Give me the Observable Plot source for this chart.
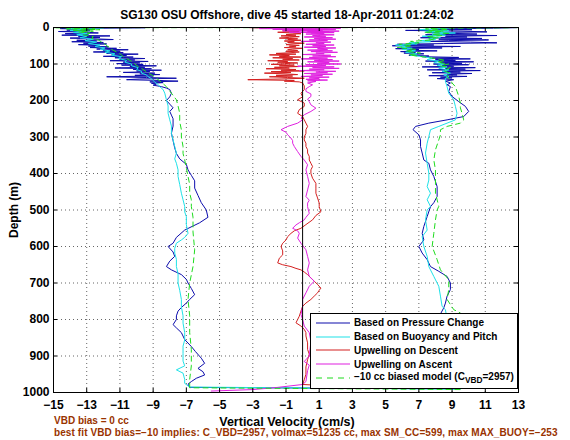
<!DOCTYPE html>
<html><head><meta charset="utf-8">
<script src="https://cdn.jsdelivr.net/npm/d3@7"></script>
<script src="https://cdn.jsdelivr.net/npm/@observablehq/plot@0.6"></script>
<style>
body{margin:0;background:#fff;}
#wrap{position:relative;width:570px;height:440px;font-family:"Liberation Sans",Arial,Helvetica,sans-serif;font-weight:bold;color:#000;}
.t{position:absolute;white-space:nowrap;line-height:1.2;}
.c{transform:translate(-50%,-50%);}
#legend{position:absolute;left:310px;top:313px;width:206px;height:74px;border:1px solid #000;background:#fff;}
.row{position:absolute;left:5px;height:12px;display:flex;align-items:center;font-size:10px;}
.row svg{margin-right:4px;}
</style></head><body><div id="wrap"></div>
<script>
// ---------- data (depth m, vertical velocity cm/s) ----------
const xTicks = [-15,-13,-11,-9,-7,-5,-3,-1,1,3,5,7,9,11,13];
const yTicks = [0,100,200,300,400,500,600,700,800,900,1000];

const legendLabels = ["Based on Pressure Change","Based on Buoyancy and Pitch","Upwelling on Descent","Upwelling on Ascent","\u221210 cc biased model (C<sub>VBD</sub>=2957)"];

const pressureDescent = [[1,-9.5],[3,-14.6],[5,-12.5],[7,-14.2],[9,-12.8],[11,-14.7],[13,-13.0],[15,-12.3],[17,-14.3],[19,-12.9],[21,-14.5],[23,-11.6],[25,-13.5],[27,-12.2],[29,-14.0],[31,-12.5],[33,-11.4],[35,-13.6],[37,-12.4],[39,-13.9],[41,-12.0],[43,-13.2],[45,-11.8],[47,-13.5],[49,-12.3],[51,-12.9],[53,-11.7],[55,-12.8],[57,-11.2],[59,-12.4],[61,-10.5],[63,-12.0],[65,-11.0],[67,-12.6],[69,-10.8],[71,-11.8],[73,-9.9],[75,-11.5],[77,-10.6],[79,-12.0],[81,-10.2],[83,-11.3],[85,-9.5],[87,-11.0],[89,-10.1],[91,-11.6],[93,-9.3],[95,-10.8],[97,-9.8],[99,-11.2],[101,-9.6],[103,-10.9],[105,-8.8],[107,-10.4],[109,-9.5],[111,-11.3],[113,-9.1],[115,-10.2],[117,-8.5],[119,-10.0],[121,-9.2],[123,-10.8],[125,-8.9],[127,-9.8],[129,-8.6],[131,-10.1],[133,-9.0],[135,-11.8],[137,-9.4],[139,-7.6],[141,-9.8],[143,-10.6],[145,-8.7],[147,-7.5],[149,-9.2],[151,-8.4],[153,-9.1],[155,-8.8],[158,-9.0],[162,-8.5],[166,-8.2],[170,-8.0],[180,-7.9],[190,-8.0],[200,-8.2],[210,-8.0],[220,-7.8],[230,-8.0],[240,-7.9],[250,-7.8],[270,-7.8],[290,-7.9],[310,-7.8],[330,-7.7],[345,-7.6],[360,-7.4],[375,-7.0],[390,-6.9],[405,-6.7],[420,-6.5],[440,-6.5],[460,-6.3],[480,-6.1],[500,-5.8],[520,-5.7],[535,-6.2],[555,-7.1],[575,-7.6],[591,-7.8],[600,-8.1],[615,-7.8],[627,-7.7],[640,-8.0],[655,-8.2],[664,-7.9],[677,-7.3],[690,-7.0],[700,-6.9],[715,-6.7],[732,-6.5],[745,-6.8],[755,-7.0],[767,-7.3],[777,-7.5],[790,-7.6],[800,-7.6],[814,-7.8],[823,-7.6],[836,-7.3],[855,-7.1],[874,-6.7],[888,-6.45],[906,-6.1],[920,-5.9],[934,-6.3],[943,-6.0],[952,-5.9],[961,-6.4],[970,-6.7],[977,-6.9],[986,-6.8]];
const pressureAscent = [[0.5,12.9],[2,11.5],[4,8.0],[6,10.2],[8,6.2],[10,9.6],[12,11.1],[14,7.5],[16,9.0],[18,10.5],[20,7.4],[22,11.7],[24,8.6],[26,9.9],[28,7.1],[30,10.8],[32,8.2],[34,11.2],[36,8.8],[38,7.6],[40,10.1],[42,11.7],[44,8.5],[46,5.7],[48,7.9],[50,5.4],[52,9.5],[54,6.2],[56,8.4],[58,5.6],[60,7.0],[62,6.3],[64,8.1],[66,5.9],[68,6.8],[70,6.1],[72,7.3],[74,6.6],[76,6.4],[78,7.6],[80,7.2],[82,9.4],[84,7.8],[86,10.1],[88,8.0],[90,9.2],[92,7.4],[94,10.3],[96,8.3],[98,9.6],[100,7.9],[102,10.0],[104,8.4],[106,9.1],[108,7.2],[110,10.4],[112,8.6],[114,9.8],[116,7.5],[118,10.7],[120,8.4],[122,9.5],[124,7.8],[126,10.2],[128,8.7],[130,9.3],[132,7.6],[134,9.9],[136,8.3],[138,9.0],[140,8.1],[143,9.1],[147,8.6],[152,8.9],[157,8.7],[162,8.9],[175,8.8],[189,9.0],[203,9.4],[216,9.8],[230,10.0],[244,9.7],[253,8.7],[262,7.6],[271,6.8],[280,6.65],[294,7.0],[308,7.1],[326,7.1],[344,7.2],[363,7.3],[372,7.6],[390,7.7],[408,7.9],[436,8.1],[463,8.1],[480,7.9],[491,7.7],[518,7.5],[545,7.3],[564,7.2],[582,7.3],[600,7.0],[618,7.2],[636,7.5],[655,7.7],[668,8.2],[682,8.7],[700,8.9],[718,8.9],[736,8.7],[755,8.6],[768,8.5],[785,8.3],[820,8.5],[860,8.7],[900,8.8],[940,8.9],[970,9.0],[990,9.2]];

const buoyDescent = [[1,-12],[3,-14.2],[5,-13.2],[8,-14.0],[11,-13.1],[14,-13.8],[17,-12.9],[20,-13.6],[24,-13.0],[28,-13.4],[32,-12.6],[36,-13.1],[40,-12.4],[44,-12.9],[48,-12.2],[52,-12.5],[56,-11.9],[60,-12.2],[64,-11.6],[68,-11.9],[72,-11.3],[76,-11.5],[80,-10.9],[85,-11.1],[90,-10.6],[95,-10.7],[100,-10.3],[105,-10.3],[110,-9.9],[115,-10.0],[120,-9.7],[125,-9.7],[130,-9.4],[135,-9.3],[140,-9.1],[145,-9.0],[150,-8.9],[156,-8.7],[162,-8.6],[170,-8.4],[180,-8.3],[198,-8.2],[215,-8.1],[235,-8.1],[253,-8.0],[270,-7.9],[290,-7.9],[308,-7.8],[326,-7.7],[344,-7.6],[360,-7.7],[372,-7.6],[390,-7.5],[408,-7.5],[430,-7.4],[454,-7.3],[472,-7.2],[490,-7.1],[505,-7.1],[518,-7.0],[540,-7.0],[564,-6.9],[575,-7.1],[582,-7.3],[591,-7.6],[605,-7.7],[618,-7.7],[635,-7.6],[655,-7.6],[675,-7.5],[700,-7.5],[720,-7.4],[745,-7.3],[765,-7.3],[790,-7.2],[810,-7.2],[836,-7.1],[856,-7.1],[873,-7.2],[893,-7.2],[914,-7.2],[927,-7.1],[938,-7.6],[947,-7.2],[964,-7.1],[975,-7.1],[985,-6.8]];
const buoyAscent = [[0.5,9],[3,8.2],[6,7.0],[9,8.8],[12,7.4],[15,9.2],[18,7.8],[21,8.6],[24,7.2],[27,8.3],[30,7.6],[33,8.0],[36,7.1],[39,7.7],[42,6.4],[45,6.9],[48,5.6],[51,6.3],[54,5.9],[57,6.6],[60,6.0],[64,6.8],[68,6.2],[72,6.9],[76,6.5],[80,7.3],[84,7.8],[88,7.5],[92,8.2],[96,7.9],[100,8.5],[104,8.1],[108,8.7],[112,8.2],[116,8.8],[120,8.4],[125,8.9],[130,8.5],[135,8.8],[139,8.6],[148,8.6],[162,8.7],[180,8.8],[198,9.1],[216,9.2],[235,9.3],[253,9.2],[262,8.7],[271,8.2],[280,7.7],[299,7.6],[317,7.5],[344,7.4],[372,7.5],[399,7.6],[418,7.6],[436,7.5],[454,7.7],[472,7.5],[490,7.7],[500,7.5],[527,7.4],[555,7.5],[573,7.2],[600,7.3],[627,7.5],[655,7.6],[682,7.9],[709,8.2],[736,8.3],[764,8.4],[773,8.6],[800,8.7],[850,8.9],[900,9.0],[950,9.2],[991,9.5]];

const upDescent = [[0.5,-3.2],[3,-0.5],[5,-1.6],[7,-0.3],[9,-1.2],[11,-0.2],[13,-1.5],[15,-0.6],[17,-0.1],[19,-1.0],[21,-0.4],[23,-1.3],[25,-0.2],[27,-0.8],[29,-1.4],[31,-0.3],[33,-0.9],[35,-0.1],[37,-1.1],[39,-0.5],[41,-0.9],[43,0.1],[45,-0.7],[47,-1.0],[49,-0.2],[51,-0.8],[53,-0.4],[55,-1.1],[57,0.0],[59,-0.6],[61,-0.9],[63,-0.3],[65,-1.0],[67,-0.2],[69,-0.7],[71,-1.6],[73,-0.4],[75,-2.0],[77,-0.8],[79,-1.4],[81,-0.1],[83,-1.8],[85,-0.6],[87,-1.2],[89,-0.2],[91,-2.1],[93,-0.9],[95,-1.5],[97,-0.3],[99,-1.1],[101,-1.9],[103,-0.5],[105,-1.4],[107,-0.2],[109,-1.7],[111,-0.8],[113,-2.2],[115,-0.4],[117,-1.3],[119,0.1],[121,-1.9],[123,-0.7],[125,-2.3],[127,-1.0],[129,-0.3],[131,-1.6],[133,-0.6],[135,-2.0],[137,-0.9],[139,0.1],[141,-1.3],[143,-3.3],[145,-0.5],[147,-1.1],[149,-0.2],[152,0.0],[160,0.1],[170,0.1],[180,-0.1],[190,0.0],[198,-0.3],[207,0.1],[216,0.1],[225,-0.2],[235,-0.3],[244,0.0],[253,0.1],[262,0.2],[271,0.3],[280,0.2],[290,0.2],[300,0.1],[308,0.1],[317,0.2],[326,0.2],[335,0.3],[344,0.3],[353,0.4],[363,0.4],[372,0.5],[381,0.6],[390,0.5],[400,0.5],[413,0.6],[427,0.8],[440,0.8],[454,0.8],[467,0.9],[481,1.0],[491,1.0],[505,1.1],[515,0.8],[527,0.6],[540,0.2],[550,-0.1],[557,-0.5],[564,-0.7],[573,-0.9],[582,-1.0],[591,-1.2],[600,-1.3],[612,-1.2],[623,-1.2],[632,-1.4],[645,-1.5],[650,-1.2],[655,-0.7],[660,-0.4],[664,-0.1],[670,0.1],[677,0.3],[686,0.5],[695,0.7],[704,0.9],[714,1.1],[720,1.0],[727,0.9],[736,0.7],[745,0.5],[755,0.2],[764,0.0],[777,-0.1],[791,-0.2],[800,-0.3],[809,-0.4],[818,-0.1],[827,0.1],[836,0.2],[845,0.2],[864,0.3],[882,0.3],[895,0.4],[910,0.3],[930,0.2],[950,0.2],[965,0.1],[978,0.0],[985,3],[988,8]];
const upAscent = [[0.5,-3.0],[2,2.3],[3,-2.6],[4,1.5],[5,-1.8],[6,2.0],[7,-0.5],[8,1.2],[9,-1.2],[10,2.2],[11,0.3],[12,1.6],[13,-0.8],[14,1.9],[15,0.5],[16,1.3],[18,0.2],[20,1.9],[22,0.6],[24,1.4],[26,0.1],[28,1.8],[30,0.7],[32,2.0],[34,0.4],[36,1.5],[38,-0.1],[40,1.7],[42,0.8],[44,1.3],[46,0.2],[48,1.9],[50,0.6],[52,1.4],[54,0.1],[56,2.0],[58,0.9],[60,1.5],[62,0.3],[64,1.8],[66,0.5],[68,2.1],[70,0.8],[72,1.3],[74,0.0],[76,1.7],[78,0.6],[80,2.0],[82,0.4],[84,1.5],[86,-0.1],[88,1.8],[90,0.7],[92,2.2],[94,0.3],[96,1.6],[98,0.9],[100,2.3],[102,0.2],[104,1.4],[106,-0.3],[108,1.9],[110,0.6],[112,2.2],[114,0.4],[116,1.3],[118,-0.2],[120,2.0],[122,0.8],[124,1.5],[126,0.1],[128,1.8],[130,0.5],[132,1.2],[134,-0.1],[136,1.6],[138,0.4],[140,1.0],[142,0.2],[144,1.5],[146,0.3],[148,0.8],[152,0.3],[157,0.6],[162,0.4],[168,0.2],[175,0.2],[182,0.5],[189,0.5],[196,0.3],[203,0.4],[212,0.5],[221,0.8],[230,0.5],[239,0.1],[248,-0.1],[253,0.0],[262,-0.3],[271,-0.9],[280,-1.3],[287,-1.0],[294,-0.9],[303,-0.7],[310,-0.6],[317,-0.6],[326,-0.5],[340,-0.3],[353,-0.1],[363,0.1],[376,0.3],[390,0.2],[408,0.3],[427,0.4],[445,0.3],[463,0.2],[473,0.4],[481,0.3],[491,0.3],[509,0.4],[520,0.2],[527,0.1],[535,-0.2],[541,-0.4],[550,-0.6],[557,-0.3],[564,-0.2],[577,-0.3],[591,-0.1],[609,0.2],[627,0.3],[645,0.4],[664,0.3],[682,0.4],[695,0.7],[709,0.4],[727,0.2],[745,0.0],[764,0.0],[786,-0.1],[800,0.0],[818,0.1],[836,0.4],[860,0.5],[900,0.4],[915,0.1],[925,0.4],[940,0.3],[970,0.2],[978,0.0],[986,-1.5],[992,-3],[996,-5.5]];

const modelDescent = [[0.3,13],[0.5,-15],[2,-12.5],[4,-14.2],[6,-12.2],[8,-13.8],[10,-12.6],[12,-13.5],[15,-12.8],[20,-13.2],[25,-12.6],[30,-12.7],[34,-12.3],[40,-12.1],[45,-11.9],[50,-11.8],[55,-11.6],[60,-11.5],[65,-11.3],[70,-11.1],[75,-10.9],[80,-10.8],[85,-10.6],[90,-10.4],[95,-10.2],[100,-10.1],[107,-9.9],[115,-9.6],[125,-9.3],[132,-9.0],[139,-8.8],[150,-8.5],[162,-8.2],[180,-7.9],[198,-7.6],[215,-7.5],[235,-7.4],[258,-7.4],[280,-7.3],[300,-7.3],[326,-7.2],[345,-7.2],[363,-7.1],[385,-7.0],[408,-6.9],[430,-6.8],[454,-6.8],[472,-6.7],[490,-6.7],[520,-6.6],[560,-6.6],[609,-6.5],[655,-6.6],[700,-6.8],[745,-6.9],[790,-6.8],[836,-6.8],[882,-6.7],[927,-6.7],[964,-6.8],[987,-6.8]];
const modelAscent = [[0.5,12.5],[2,8.0],[4,7.4],[6,8.8],[8,7.6],[10,8.5],[13,7.3],[16,8.9],[19,7.8],[22,8.4],[25,7.5],[28,8.2],[31,7.6],[34,7.9],[38,6.5],[42,7.0],[46,5.8],[50,6.6],[55,5.7],[60,6.8],[65,6.2],[70,7.1],[75,6.4],[80,7.2],[85,8.0],[90,8.6],[95,8.1],[100,8.8],[105,8.3],[110,8.9],[118,8.5],[126,8.9],[134,8.7],[143,8.9],[152,9.0],[162,9.2],[175,9.3],[189,9.4],[207,9.5],[220,9.5],[235,9.6],[253,9.7],[262,9.5],[271,8.7],[280,8.3],[294,8.3],[308,8.2],[335,8.0],[363,7.9],[390,8.0],[418,8.0],[454,8.0],[490,8.2],[500,8.1],[527,8.0],[564,7.9],[600,7.8],[636,8.1],[664,8.3],[691,8.8],[718,8.8],[745,8.7],[773,9.1],[782,9.5],[800,9.3],[850,9.3],[900,9.4],[950,9.5],[992,9.6]];

const colors = ["#0c0cac","#1ee2e8","#d42020","#e020e0","#1fdc1f"];

// ---------- build ----------
const join = (desc, asc) => desc.concat(asc.slice().reverse()).map(([depth, v]) => ({depth, v}));
const pressure = join(pressureDescent, pressureAscent);
const buoy = join(buoyDescent, buoyAscent);
const upD = upDescent.map(([depth, v]) => ({depth, v}));
const upA = upAscent.slice().reverse().map(([depth, v]) => ({depth, v}));
const model = join(modelDescent, modelAscent);

const tickLenY = 11, tickLenX = 0.24;
const lineOpts = (c, extra = {}) => ({x: "v", y: "depth", stroke: c, strokeWidth: 1, curve: "linear", ...extra});

const chart = Plot.plot({
  width: 570, height: 440,
  marginLeft: 53, marginRight: 52, marginTop: 27, marginBottom: 48,
  x: {domain: [-15, 13]},
  y: {domain: [0, 1000], reverse: true},
  style: {fontFamily: "'Liberation Sans', Arial, sans-serif", fontSize: "12px", fontWeight: "bold", color: "#000", background: "#fff"},
  marks: [
    Plot.gridX(xTicks.slice(1, -1), {stroke: "#555", strokeOpacity: 0.9, strokeDasharray: "1,3"}),
    Plot.gridY(yTicks.slice(1, -1), {stroke: "#555", strokeOpacity: 0.9, strokeDasharray: "1,3"}),
    Plot.line(pressure, lineOpts(colors[0])),
    Plot.line(buoy, lineOpts(colors[1])),
    Plot.line(upD, lineOpts(colors[2])),
    Plot.line(upA, lineOpts(colors[3])),
    Plot.line(model, lineOpts(colors[4], {strokeDasharray: "5,4"})),
    Plot.ruleX([0], {stroke: "#000", strokeWidth: 1}),
    Plot.ruleX(xTicks, {x: d => d, y1: 1000, y2: 1000 - tickLenY, stroke: "#000"}),
    Plot.ruleX(xTicks, {x: d => d, y1: 0, y2: tickLenY, stroke: "#000"}),
    Plot.ruleY(yTicks, {y: d => d, x1: -15, x2: -15 + tickLenX, stroke: "#000"}),
    Plot.ruleY(yTicks, {y: d => d, x1: 13, x2: 13 - tickLenX, stroke: "#000"}),
    Plot.frame({stroke: "#000", strokeWidth: 1}),
    Plot.axisX(xTicks, {tickSize: 0, tickPadding: 8, label: null, fontWeight: "bold"}),
    Plot.axisY(yTicks, {tickSize: 0, tickPadding: 4, label: null, fontWeight: "bold", tickFormat: d => String(d)})
  ]
});

const wrap = document.getElementById("wrap");
wrap.appendChild(chart);

function addText(html, css, cls = "t") {
  const d = document.createElement("div");
  d.className = cls;
  d.innerHTML = html;
  d.style.cssText = css;
  wrap.appendChild(d);
  return d;
}
addText("SG130 OSU Offshore, dive 45 started 18-Apr-2011 01:24:02", "left:287px;top:15px;font-size:12px;", "t c");
addText("Depth (m)", "left:14px;top:210px;font-size:12px;transform:translate(-50%,-50%) rotate(-90deg);");
addText("Vertical Velocity (cm/s)", "left:287px;top:422px;font-size:12.5px;", "t c");
addText("VBD bias = 0 cc", "left:54px;top:415px;font-size:10px;line-height:12px;color:#993300;");
addText("best fit VBD bias=\u221210 implies: C_VBD=2957, volmax=51235 cc, max SM_CC=599, max MAX_BUOY=\u2212253", "left:54px;top:427px;font-size:10px;line-height:11px;letter-spacing:0.1px;color:#993300;");

// legend
const lg = document.createElement("div");
lg.id = "legend";
wrap.appendChild(lg);
const rowTops = [2.5, 16.5, 30, 44, 57.5];
legendLabels.forEach((lab, i) => {
  const r = document.createElement("div");
  r.className = "row";
  r.style.top = rowTops[i] + "px";
  const dash = i === 4 ? ' stroke-dasharray="6,5"' : "";
  r.innerHTML = `<svg width="34" height="8"><line x1="0" y1="4" x2="34" y2="4" stroke="${colors[i]}" stroke-width="1.2"${dash}/></svg><span>${lab}</span>`;
  lg.appendChild(r);
});
</script>
</body></html>
